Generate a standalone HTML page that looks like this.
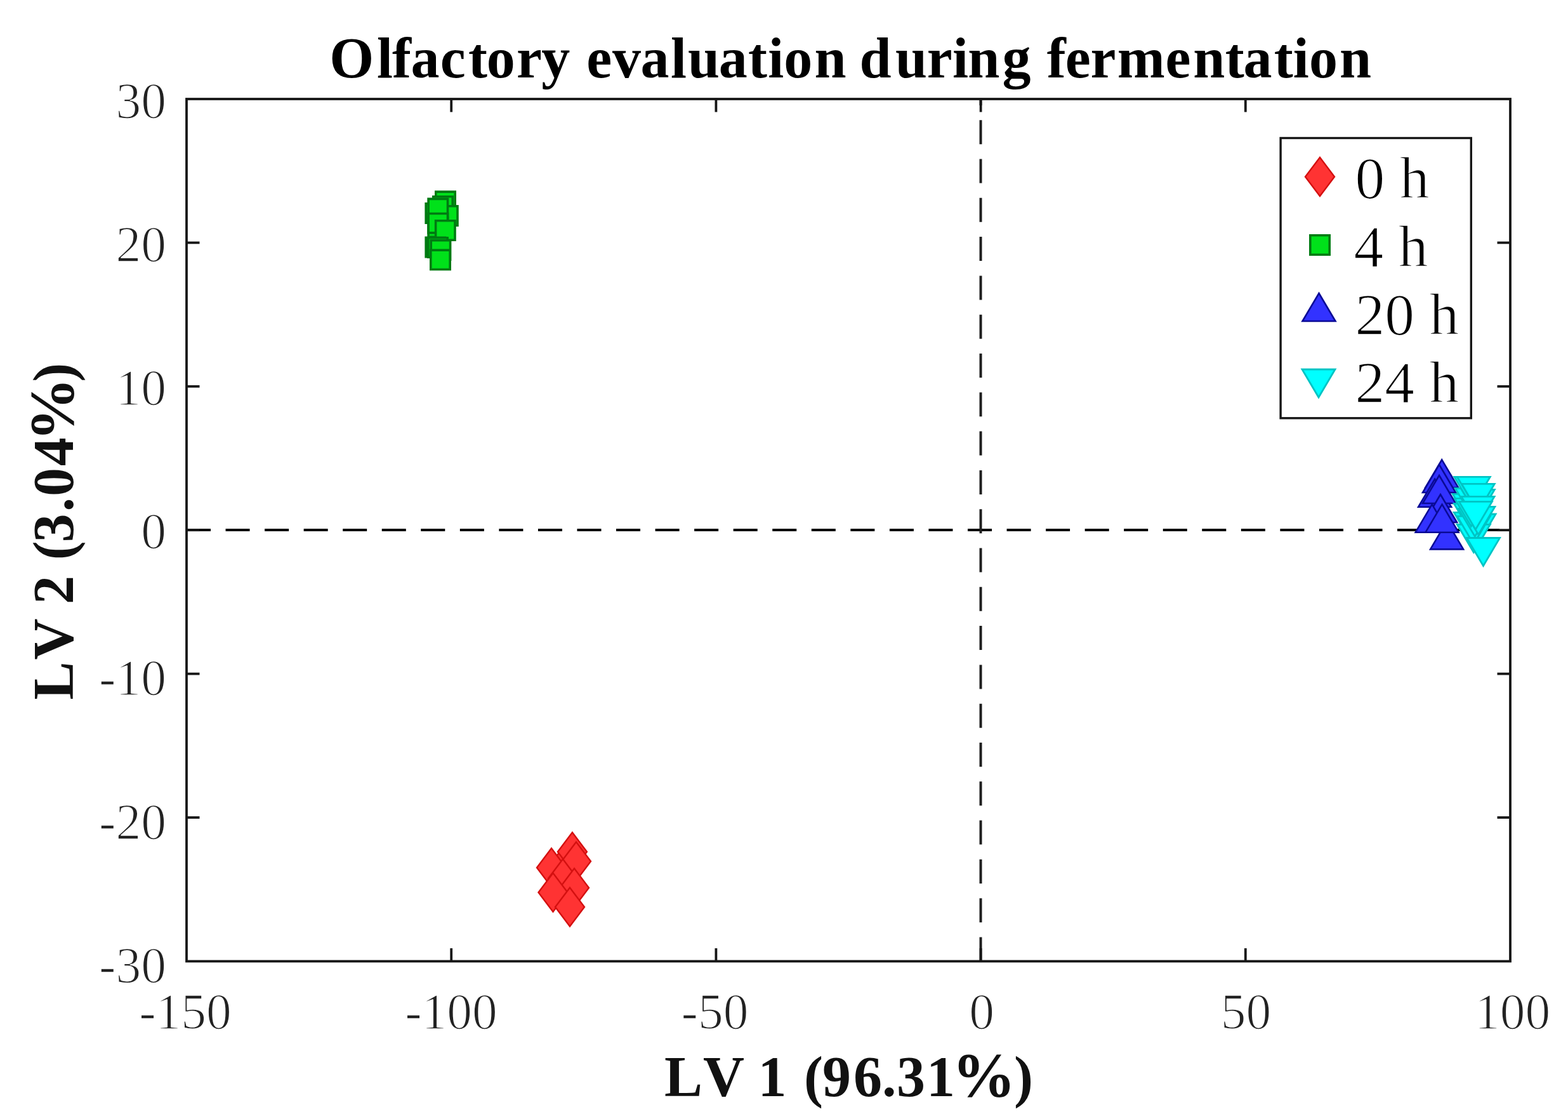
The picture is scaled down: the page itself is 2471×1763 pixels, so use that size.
<!DOCTYPE html>
<html>
<head>
<meta charset="utf-8">
<title>Olfactory evaluation during fermentation</title>
<style>
html,body{margin:0;padding:0;background:#fff;}
body{width:2471px;height:1763px;overflow:hidden;}
svg{display:block;}
.tk{font-family:"Liberation Serif","Times New Roman",serif;font-size:79.5px;fill:#222;stroke:#fff;stroke-width:1.6px;stroke-linejoin:round;}
.lb{font-family:"Liberation Serif","Times New Roman",serif;font-size:90px;font-weight:bold;fill:#111;}
.lg{font-family:"Liberation Serif","Times New Roman",serif;font-size:93.5px;fill:#000;stroke:#fff;stroke-width:1.4px;stroke-linejoin:round;}
</style>
</head>
<body>
<svg width="2471" height="1763" viewBox="0 0 2471 1763">
<defs>
  <path id="dia" d="M0,-30.5 L23,0 L0,30.5 L-23,0 Z" fill="#ff3333" stroke="#d41010" stroke-width="2.4" stroke-linejoin="miter"/>
  <path id="sq" d="M-15.2,-15.2 H15.2 V15.2 H-15.2 Z" fill="#00e11a" stroke="#007a12" stroke-width="3.6"/>
  <path id="tu" d="M0,-26 L26,18 L-26,18 Z" fill="#3232ff" stroke="#0a0a96" stroke-width="2.6" stroke-linejoin="miter"/>
  <path id="td" d="M0,26 L26,-18 L-26,-18 Z" fill="#00ffff" stroke="#00c4c4" stroke-width="2.8" stroke-linejoin="miter"/>
</defs>

<!-- title -->
<text class="lb" x="519.3 594.0 618.0 647.5 693.7 737.9 766.8 814.0 853.2 898.2 924.3 965.0 1009.5 1057.0 1084.0 1132.7 1179.0 1210.2 1235.3 1283.5 1333.6 1354.6 1411.0 1460.8 1501.0 1525.3 1579.5 1624.5 1649.7 1678.7 1718.6 1760.7 1836.5 1880.3 1930.7 1959.6 2007.7 2037.7 2063.0 2110.9" y="122" style="fill:#000">Olfactory evaluation during fermentation</text>

<!-- zero lines (dashed) -->
<line x1="294" y1="835" x2="2380" y2="835" stroke="#000" stroke-width="4.2" stroke-dasharray="38 23.55"/>
<line x1="1545.5" y1="1514.5" x2="1545.5" y2="156" stroke="#1e1e1e" stroke-width="4" stroke-dasharray="38 23.3"/>

<!-- 0 h red diamonds -->
<g>
  <use href="#dia" x="890" y="1362"/>
  <use href="#dia" x="901.9" y="1342.0"/>
  <use href="#dia" x="908.0" y="1357.0"/>
  <use href="#dia" x="869.0" y="1367.0"/>
  <use href="#dia" x="887.0" y="1384.0"/>
  <use href="#dia" x="905.0" y="1398.8"/>
  <use href="#dia" x="871.5" y="1406.0"/>
  <use href="#dia" x="898.0" y="1429.0"/>
</g>
<!-- 4 h green squares -->
<g>
  <use href="#sq" x="702.0" y="317.3"/>
  <use href="#sq" x="698.0" y="325.0"/>
  <use href="#sq" x="705.8" y="339.9"/>
  <use href="#sq" x="686.4" y="336.1"/>
  <use href="#sq" x="690.3" y="328.6"/>
  <use href="#sq" x="690.3" y="358.0"/>
  <use href="#sq" x="690.3" y="351.7"/>
  <use href="#sq" x="701.8" y="363.0"/>
  <use href="#sq" x="686.4" y="389.6"/>
  <use href="#sq" x="690.0" y="390.0"/>
  <use href="#sq" x="694.4" y="394.0"/>
  <use href="#sq" x="694.0" y="409.3"/>
</g>
<!-- 20 h blue triangles -->
<g>
  <use href="#tu" x="2272.2" y="750.3"/>
  <use href="#tu" x="2268.0" y="758.0"/>
  <use href="#tu" x="2261.1" y="780.7"/>
  <use href="#tu" x="2268.0" y="775.0"/>
  <use href="#tu" x="2270.0" y="805.0"/>
  <use href="#tu" x="2280.1" y="847.4"/>
  <use href="#tu" x="2256.7" y="820.7"/>
  <use href="#tu" x="2272.5" y="820.7"/>
</g>
<!-- 24 h cyan triangles -->
<g>
  <use href="#td" x="2331" y="828"/>
  <use href="#td" x="2317.3" y="825.3"/>
  <use href="#td" x="2315.3" y="796.3"/>
  <use href="#td" x="2317.3" y="811.3"/>
  <use href="#td" x="2322.3" y="844.3"/>
  <use href="#td" x="2322.3" y="831.3"/>
  <use href="#td" x="2324.3" y="819.3"/>
  <use href="#td" x="2329.8" y="816.3"/>
  <use href="#td" x="2318.3" y="803.3"/>
  <use href="#td" x="2319.3" y="787.3"/>
  <use href="#td" x="2329.3" y="789.3"/>
  <use href="#td" x="2317.9" y="769.3"/>
  <use href="#td" x="2322.3" y="769.3"/>
  <use href="#td" x="2329.3" y="780.3"/>
  <use href="#td" x="2329.0" y="800.3"/>
  <use href="#td" x="2325.3" y="808.3"/>
  <use href="#td" x="2337.5" y="865.5"/>
</g>

<!-- axes box -->
<rect x="294" y="156" width="2086" height="1358.5" fill="none" stroke="#161616" stroke-width="3.8"/>
<!-- ticks -->
<g stroke="#161616" stroke-width="3.8">
  <line x1="711.2" y1="1514.5" x2="711.2" y2="1494"/>
  <line x1="1128.4" y1="1514.5" x2="1128.4" y2="1494"/>
  <line x1="1545.6" y1="1514.5" x2="1545.6" y2="1494"/>
  <line x1="1962.8" y1="1514.5" x2="1962.8" y2="1494"/>
  <line x1="711.2" y1="156" x2="711.2" y2="176.5"/>
  <line x1="1128.4" y1="156" x2="1128.4" y2="176.5"/>
  <line x1="1545.6" y1="156" x2="1545.6" y2="176.5"/>
  <line x1="1962.8" y1="156" x2="1962.8" y2="176.5"/>
  <line x1="294" y1="382.4" x2="314.5" y2="382.4"/>
  <line x1="294" y1="608.8" x2="314.5" y2="608.8"/>
  <line x1="294" y1="835.2" x2="314.5" y2="835.2"/>
  <line x1="294" y1="1061.6" x2="314.5" y2="1061.6"/>
  <line x1="294" y1="1288" x2="314.5" y2="1288"/>
  <line x1="2380" y1="382.4" x2="2359.5" y2="382.4"/>
  <line x1="2380" y1="608.8" x2="2359.5" y2="608.8"/>
  <line x1="2380" y1="835.2" x2="2359.5" y2="835.2"/>
  <line x1="2380" y1="1061.6" x2="2359.5" y2="1061.6"/>
  <line x1="2380" y1="1288" x2="2359.5" y2="1288"/>
</g>

<!-- y tick labels -->
<g class="tk" text-anchor="end">
  <text x="262" y="185.5">30</text>
  <text x="262" y="411.5">20</text>
  <text x="262" y="637.5">10</text>
  <text x="262" y="864">0</text>
  <text x="262" y="1094.5">-10</text>
  <text x="262" y="1321.5">-20</text>
  <text x="262" y="1547.5">-30</text>
</g>
<!-- x tick labels -->
<g class="tk" text-anchor="middle">
  <text x="292" y="1620.5">-150</text>
  <text x="711" y="1620.5">-100</text>
  <text x="1126.5" y="1620.5">-50</text>
  <text x="1547" y="1620.5">0</text>
  <text x="1963.4" y="1620.5">50</text>
  <text x="2383.5" y="1620.5">100</text>
</g>

<!-- axis labels -->
<text class="lb" x="1047.0 1108.0 1173.0 1194.5 1239.5 1267.0 1296.0 1345.0 1390.0 1413.0 1460.0" y="1727">LV 1 (96.31<tspan x="1500.5" font-size="100">%</tspan><tspan x="1598">)</tspan></text>
<text class="lb" transform="translate(114.5,1200) rotate(-90)" x="97.5 160.5 225.5 248.1 293.1 317.8 345.5 393.8 418.0 465.7" y="0">LV 2 (3.04<tspan x="505" font-size="100">%</tspan><tspan x="598.2">)</tspan></text>

<!-- legend -->
<rect x="2018.1" y="217.5" width="300.2" height="441.3" fill="#fff" stroke="#161616" stroke-width="3.4"/>
<use href="#dia" x="2080" y="278.5"/>
<use href="#sq" x="2080" y="386"/>
<use href="#tu" x="2078.5" y="488"/>
<use href="#td" x="2078" y="600"/>
<g class="lg">
  <text x="2135.5" y="312">0 h</text>
  <text x="2133.5" y="419.5">4 h</text>
  <text x="2135.5" y="526.5">20 h</text>
  <text x="2135.5" y="634">24 h</text>
</g>
</svg>
</body>
</html>
